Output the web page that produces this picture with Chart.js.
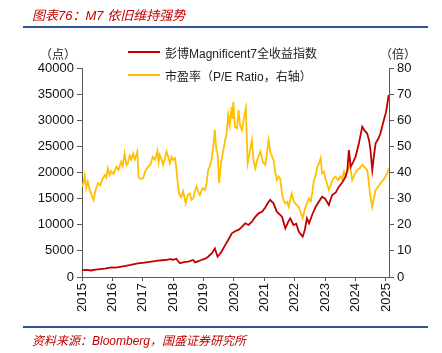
<!DOCTYPE html>
<html>
<head>
<meta charset="utf-8">
<script src="https://cdn.jsdelivr.net/npm/chart.js@4.4.1/dist/chart.umd.min.js"></script>
<style>
  body { margin: 0; background: #fff; }
  #wrap { position: relative; width: 442px; height: 353px; font-family: "Liberation Sans", "Noto Sans CJK SC", sans-serif; }
  #wrap canvas { position: absolute; left: 0; top: 0; }
  .txt { position: absolute; white-space: nowrap; color: #222; font-size: 12px; }
  .red { color: #C00000; font-style: italic; }
  .hline { position: absolute; background: #2F5597; height: 2px; }
  .leg { position: absolute; height: 2px; width: 32px; }
</style>
</head>
<body>
<div id="wrap">
  <canvas id="myChart" width="442" height="353"></canvas>
  <div class="txt red" style="left:32px;top:5px;font-size:13px;">图表76：M7 依旧维持强势</div>
  <div class="hline" style="left:23px;top:26px;width:405px;"></div>
  <div class="txt" style="left:40px;top:45px;">（点）</div>
  <div class="txt" style="left:380px;top:45px;">（倍）</div>
  <div class="leg" style="left:128px;top:51px;background:#C00000;"></div>
  <div class="txt" style="left:165px;top:44px;">彭博Magnificent7全收益指数</div>
  <div class="leg" style="left:128px;top:74px;background:#FFC000;"></div>
  <div class="txt" style="left:165px;top:67px;">市盈率（P/E Ratio，右轴）</div>
  <div class="hline" style="left:23px;top:326px;width:405px;"></div>
  <div class="txt red" style="left:32px;top:331px;">资料来源：Bloomberg，国盛证券研究所</div>
</div>
<script>
// 年份刻度
const yearTicks = [2015, 2016, 2017, 2018, 2019, 2020, 2021, 2022, 2023, 2024, 2025]

// 彭博Magnificent7全收益指数（点）
const m7Dates = [2015.00, 2015.15, 2015.30, 2015.45, 2015.60, 2015.75, 2015.96, 2016.10, 2016.25, 2016.40, 2016.60, 2016.84, 2017.05, 2017.28, 2017.50, 2017.73, 2017.90, 2018.00, 2018.10, 2018.22, 2018.35, 2018.50, 2018.66, 2018.72, 2018.85, 2018.93, 2019.05, 2019.15, 2019.28, 2019.37, 2019.46, 2019.52, 2019.59, 2019.70, 2019.81, 2019.93, 2020.05, 2020.15, 2020.26, 2020.37, 2020.48, 2020.59, 2020.70, 2020.81, 2020.93, 2021.03, 2021.12, 2021.19, 2021.30, 2021.41, 2021.50, 2021.58, 2021.69, 2021.78, 2021.85, 2021.96, 2022.05, 2022.13, 2022.26, 2022.33, 2022.40, 2022.47, 2022.57, 2022.69, 2022.80, 2022.90, 2023.00, 2023.12, 2023.23, 2023.35, 2023.45, 2023.55, 2023.67, 2023.73, 2023.78, 2023.84, 2023.92, 2024.00, 2024.11, 2024.22, 2024.30, 2024.38, 2024.45, 2024.49, 2024.55, 2024.60, 2024.66, 2024.75, 2024.82, 2024.93, 2025.00, 2025.04, 2025.09]
const m7Values = [1300, 1350, 1250, 1400, 1500, 1600, 1850, 1800, 1950, 2100, 2300, 2620, 2750, 2930, 3120, 3250, 3400, 3300, 3500, 2620, 2850, 2930, 3250, 2800, 3100, 3250, 3500, 3890, 4600, 5490, 3890, 4300, 4840, 6000, 7080, 8360, 8800, 9000, 9600, 10280, 9960, 10590, 11500, 12190, 12510, 13300, 14200, 14740, 14100, 12510, 12000, 11540, 9320, 10500, 11220, 9960, 10200, 8680, 7720, 9000, 11220, 10280, 11870, 13460, 14500, 15370, 15000, 13780, 15690, 16200, 17290, 18000, 19200, 20500, 24310, 21110, 22000, 23030, 25590, 28770, 28000, 27500, 26000, 24310, 20480, 23000, 25590, 26500, 27500, 30050, 31500, 32920, 34840]

// 市盈率（倍，右轴）
const peDates = [2015.00, 2015.05, 2015.09, 2015.14, 2015.19, 2015.25, 2015.31, 2015.38, 2015.45, 2015.53, 2015.60, 2015.67, 2015.75, 2015.80, 2015.85, 2015.91, 2015.96, 2016.04, 2016.13, 2016.20, 2016.29, 2016.34, 2016.40, 2016.46, 2016.51, 2016.57, 2016.62, 2016.68, 2016.74, 2016.82, 2016.86, 2016.92, 2017.01, 2017.08, 2017.17, 2017.25, 2017.33, 2017.40, 2017.48, 2017.52, 2017.56, 2017.62, 2017.67, 2017.73, 2017.78, 2017.84, 2017.89, 2017.95, 2018.00, 2018.06, 2018.11, 2018.15, 2018.19, 2018.26, 2018.33, 2018.41, 2018.48, 2018.55, 2018.60, 2018.66, 2018.72, 2018.77, 2018.83, 2018.88, 2018.96, 2019.05, 2019.10, 2019.15, 2019.21, 2019.26, 2019.32, 2019.37, 2019.42, 2019.46, 2019.51, 2019.55, 2019.59, 2019.65, 2019.71, 2019.76, 2019.81, 2019.86, 2019.92, 2019.95, 2019.98, 2020.03, 2020.10, 2020.15, 2020.20, 2020.26, 2020.33, 2020.39, 2020.45, 2020.52, 2020.59, 2020.64, 2020.70, 2020.78, 2020.87, 2020.95, 2021.03, 2021.08, 2021.14, 2021.20, 2021.30, 2021.36, 2021.41, 2021.47, 2021.52, 2021.58, 2021.63, 2021.69, 2021.75, 2021.80, 2021.86, 2021.90, 2021.96, 2022.01, 2022.07, 2022.13, 2022.20, 2022.26, 2022.33, 2022.40, 2022.47, 2022.53, 2022.57, 2022.63, 2022.69, 2022.74, 2022.80, 2022.85, 2022.90, 2022.96, 2023.02, 2023.07, 2023.12, 2023.18, 2023.25, 2023.34, 2023.42, 2023.50, 2023.56, 2023.62, 2023.67, 2023.74, 2023.81, 2023.85, 2023.89, 2023.96, 2024.05, 2024.13, 2024.22, 2024.30, 2024.38, 2024.42, 2024.46, 2024.50, 2024.55, 2024.60, 2024.66, 2024.74, 2024.82, 2024.90, 2024.98, 2025.04, 2025.09]
const peValues = [34.6, 36.0, 38.8, 34.0, 36.5, 33.5, 31.5, 29.5, 33.5, 35.9, 35.0, 37.5, 39.0, 38.0, 41.6, 39.0, 40.5, 39.5, 42.2, 41.0, 44.1, 42.5, 47.3, 42.8, 43.5, 46.5, 45.0, 47.3, 45.0, 48.0, 38.4, 37.5, 37.8, 40.5, 42.2, 43.0, 46.0, 44.8, 48.3, 44.0, 46.7, 45.0, 42.9, 45.5, 48.0, 46.0, 43.5, 46.0, 44.8, 45.5, 41.0, 36.0, 32.0, 30.5, 32.8, 28.2, 31.5, 32.0, 29.5, 30.1, 33.0, 34.6, 32.5, 31.4, 34.0, 33.3, 36.0, 41.0, 42.5, 44.8, 50.0, 56.3, 48.5, 47.4, 35.9, 41.0, 44.8, 48.5, 52.4, 55.0, 62.0, 58.0, 65.0, 60.5, 67.1, 57.5, 56.9, 64.0, 58.0, 56.3, 61.0, 64.6, 43.5, 48.0, 52.4, 45.0, 41.6, 45.5, 48.0, 44.0, 42.9, 47.0, 52.4, 47.5, 44.8, 40.0, 37.1, 38.5, 37.7, 32.0, 29.5, 28.2, 28.8, 26.9, 30.0, 32.0, 29.0, 28.2, 27.5, 26.9, 24.5, 22.5, 26.0, 28.2, 30.0, 29.0, 32.0, 37.1, 39.0, 42.2, 43.5, 45.4, 39.7, 40.3, 37.1, 35.5, 33.3, 35.0, 37.5, 38.4, 37.1, 38.5, 37.5, 40.3, 38.4, 40.5, 44.1, 40.0, 37.1, 39.0, 41.0, 41.5, 42.9, 42.0, 41.0, 38.0, 33.3, 30.0, 26.9, 30.0, 33.3, 34.5, 35.9, 37.0, 38.4, 39.5, 41.6]

const ctx = document.getElementById('myChart').getContext('2d')

const axisColor = '#595959'
const tickFont = { family: 'Liberation Sans', size: 13 }

const myChart = new Chart(ctx, {
    type: 'line',
    data: {
        datasets: [{
            label: '彭博Magnificent7全收益指数',
            data: m7Dates.map((d, i) => ({ x: d, y: m7Values[i] })),
            borderColor: '#C00000',
            borderWidth: 1.8,
            pointRadius: 0,
            yAxisID: 'y'
        }, {
            label: '市盈率（P/E Ratio，右轴）',
            data: peDates.map((d, i) => ({ x: d, y: peValues[i] })),
            borderColor: '#FFC000',
            borderWidth: 1.8,
            pointRadius: 0,
            yAxisID: 'y1'
        }]
    },
    options: {
        responsive: false,
        animation: false,
        layout: { padding: { left: 32, right: 23, top: 68, bottom: 36 } },
        plugins: { legend: { display: false }, tooltip: { enabled: false } },
        scales: {
            x: {
                type: 'linear',
                min: 2015,
                max: 2025.1,
                afterBuildTicks: s => { s.ticks = yearTicks.map(v => ({ value: v })) },
                afterFit: s => { s.height = 40 },
                ticks: { autoSkip: false, maxRotation: 90, minRotation: 90, color: '#111', font: tickFont, padding: 2, callback: v => String(v) },
                grid: { drawOnChartArea: false, tickLength: 4, color: axisColor },
                border: { color: axisColor }
            },
            y: {
                position: 'left',
                min: 0,
                max: 40000,
                afterFit: s => { s.width = 50 },
                ticks: { stepSize: 5000, color: '#111', font: tickFont, padding: 3, callback: v => String(v) },
                grid: { drawOnChartArea: false, tickLength: 5, color: axisColor },
                border: { color: axisColor }
            },
            y1: {
                position: 'right',
                min: 0,
                max: 80,
                afterFit: s => { s.width = 30 },
                ticks: { stepSize: 10, color: '#111', font: tickFont, padding: 3, callback: v => String(v) },
                grid: { drawOnChartArea: false, tickLength: 5, color: axisColor },
                border: { color: axisColor }
            }
        }
    }
});
</script>
</body>
</html>
